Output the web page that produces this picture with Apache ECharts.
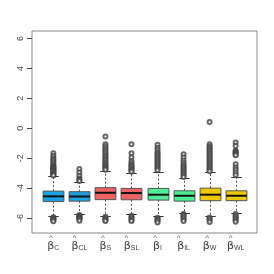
<!DOCTYPE html>
<html><head><meta charset="utf-8">
<script src="https://cdn.jsdelivr.net/npm/echarts@6/dist/echarts.min.js"></script>
<style>html,body{margin:0;padding:0;background:#fff}#c{width:274px;height:274px}</style>
</head><body><div id="c"></div><script>
const categories = ['C','CL','S','SL','I','IL','W','WL'];
const lowerWhisker = [-5.87, -5.75, -5.87, -5.75, -5.89, -5.67, -5.89, -5.67];
const q1 = [-4.90, -4.87, -4.77, -4.78, -4.80, -4.87, -4.84, -4.84];
const median = [-4.55, -4.56, -4.31, -4.33, -4.44, -4.51, -4.44, -4.51];
const q3 = [-4.20, -4.24, -3.97, -4.02, -4.02, -4.18, -4.00, -4.18];
const upperWhisker = [-3.18, -3.58, -2.84, -2.96, -2.89, -3.33, -2.91, -3.29];
const outC  = [-1.67, -1.85, -2.0, -2.1, -2.2, -2.3, -2.4, -2.5, -2.55, -2.6, -2.65, -2.7, -2.75, -2.8, -2.85, -2.9, -2.95, -3.0, -3.05, -3.1, -3.15, -5.95, -6.0, -6.05, -6.1, -6.15, -6.22];
const outCL = [-2.73, -2.96, -3.18, -3.36, -3.45, -3.52, -5.8, -5.85, -5.9, -5.95, -6.0, -6.05, -6.1, -6.18];
const outS  = [-0.55, -1.07, -1.2, -1.33, -1.45, -1.57, -1.68, -1.8, -1.9, -2.0, -2.1, -2.2, -2.3, -2.4, -2.48, -2.56, -2.63, -2.7, -2.77, -5.92, -6.0, -6.08, -6.15, -6.2];
const outSL = [-1.07, -1.67, -1.96, -2.18, -2.33, -2.45, -2.51, -2.6, -2.69, -2.77, -2.84, -2.9, -5.85, -5.95, -6.05, -6.15, -6.2];
const outI  = [-1.1, -1.3, -1.45, -1.6, -1.7, -1.8, -1.9, -2.0, -2.1, -2.2, -2.3, -2.4, -2.5, -2.6, -2.7, -2.8, -5.98, -6.05, -6.12, -6.2, -6.3];
const outIL = [-1.73, -1.95, -2.15, -2.3, -2.45, -2.55, -2.65, -2.75, -2.85, -2.95, -3.05, -3.15, -3.25, -5.73, -5.8, -5.9, -6.0, -6.1, -6.2];
const outW  = [0.42, -1.07, -1.2, -1.3, -1.4, -1.5, -1.6, -1.7, -1.8, -1.9, -2.0, -2.1, -2.2, -2.3, -2.4, -2.5, -2.6, -2.7, -2.8, -2.87, -5.96, -6.05, -6.15, -6.27];
const outWL = [-0.96, -1.18, -1.5, -1.56, -1.62, -1.68, -1.74, -1.8, -2.4, -2.62, -2.78, -2.96, -3.13, -5.73, -5.85, -5.95, -6.05, -6.15, -6.25];
const outliers = [outC, outCL, outS, outSL, outI, outIL, outW, outWL];
const yTicks = [-6, -4, -2, 0, 2, 4, 6];
const boxColors = ['#1BA1E2','#1BA1E2','#EE6363','#EE6363','#4EEE94','#4EEE94','#EEC900','#EEC900'];

const boxData = categories.map((c, i) => [i + 1, lowerWhisker[i], q1[i], median[i], q3[i], upperWhisker[i]]);
const outData = [];
outliers.forEach((arr, i) => arr.forEach(v => outData.push([i + 1, v])));

const rich = {
  h1: { fontSize: 8, color: '#555', lineHeight: 7, padding: [0, 5, 0, 0] },
  h2: { fontSize: 8, color: '#555', lineHeight: 7, padding: [0, 10, 0, 0] },
  b: { fontSize: 11, color: '#444', fontFamily: 'DejaVu Sans', lineHeight: 11 },
  s: { fontSize: 7, color: '#444', fontFamily: 'Liberation Sans', lineHeight: 11, padding: [4, 0, 0, 0] }
};

const chart = echarts.init(document.getElementById('c'), null, { renderer: 'canvas' });
chart.setOption({
  animation: false,
  backgroundColor: '#fff',
  grid: { left: 32, top: 31, width: 225, height: 202, show: true, borderColor: '#888', borderWidth: 1, containLabel: false },
  xAxis: {
    type: 'value', min: 0.18, max: 8.82,
    axisLine: { show: false }, axisTick: { show: false }, splitLine: { show: false },
    axisLabel: {
      customValues: categories.map((c, i) => i + 1),
      margin: 1,
      formatter: v => {
        const c = categories[Math.round(v) - 1];
        return '{' + (c.length > 1 ? 'h2' : 'h1') + '|^}\n{b|β}{s|' + c + '}';
      },
      rich: rich
    }
  },
  yAxis: {
    type: 'value', min: -7, max: 6.5,
    axisLine: { show: false }, splitLine: { show: false },
    axisTick: { show: true, customValues: yTicks, length: 5, lineStyle: { color: '#444', width: 1 } },
    axisLabel: { customValues: yTicks, rotate: 90, margin: 7, fontSize: 9, color: '#444', fontFamily: 'Liberation Sans', formatter: v => String(v) }
  },
  series: [
    {
      type: 'custom',
      data: boxData,
      encode: { x: 0, y: [1, 2, 3, 4, 5] },
      renderItem: (params, api) => {
        const x = api.value(0);
        const pLo = api.coord([x, api.value(1)]);
        const pA = api.coord([x, api.value(2)]);
        const pM = api.coord([x, api.value(3)]);
        const pB = api.coord([x, api.value(4)]);
        const pHi = api.coord([x, api.value(5)]);
        const unit = api.size([1, 0])[0];
        const bw = unit * 0.8, cw = unit * 0.4;
        const cx = Math.round(pA[0]) + 0.5;
        const col = boxColors[params.dataIndex];
        const ws = { stroke: '#555', lineWidth: 1, lineDash: [2, 2] };
        const cs = { stroke: '#333', lineWidth: 1 };
        return { type: 'group', children: [
          { type: 'line', shape: { x1: cx, y1: pB[1], x2: cx, y2: pHi[1] }, style: ws },
          { type: 'line', shape: { x1: cx, y1: pA[1], x2: cx, y2: pLo[1] }, style: ws },
          { type: 'line', shape: { x1: cx - cw / 2, y1: Math.round(pHi[1]) + 0.5, x2: cx + cw / 2, y2: Math.round(pHi[1]) + 0.5 }, style: cs },
          { type: 'line', shape: { x1: cx - cw / 2, y1: Math.round(pLo[1]) + 0.5, x2: cx + cw / 2, y2: Math.round(pLo[1]) + 0.5 }, style: cs },
          { type: 'rect', shape: { x: cx - bw / 2, y: pB[1], width: bw, height: pA[1] - pB[1] }, style: { fill: col, stroke: '#555', lineWidth: 1 } },
          { type: 'line', shape: { x1: cx - bw / 2, y1: pM[1], x2: cx + bw / 2, y2: pM[1] }, style: { stroke: '#111', lineWidth: 2 } }
        ] };
      }
    },
    {
      type: 'scatter',
      data: outData,
      symbol: 'emptyCircle',
      symbolSize: 4,
      clip: false,
      itemStyle: { color: '#444', borderColor: '#444', borderWidth: 0.7 }
    }
  ]
});
</script></body></html>
